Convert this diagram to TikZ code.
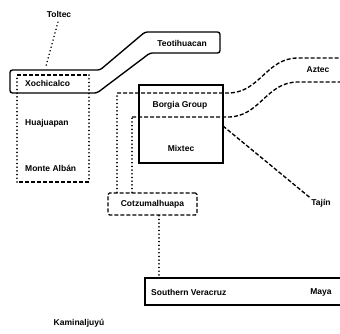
\documentclass[tikz,border=0pt]{standalone}
\usepackage{fontspec}
\setmainfont{Liberation Sans}
\tikzset{
  lbl/.style={font=\fontsize{8.5}{9}\selectfont\bfseries, inner sep=1pt},
  solidline/.style={line width=1.35pt},
  dashline/.style={line width=1.35pt, dash pattern=on 4pt off 2pt},
  dotline/.style={line width=1.6pt, line cap=round, dash pattern=on 0.1pt off 3.6pt},
}
\begin{document}
\begin{tikzpicture}[x=1pt,y=-1pt]
\useasboundingbox (0,0) rectangle (340,333);

% Teotihuacan band running down into Xochicalco
\draw[solidline, rounded corners=2.5pt]
  (10,70) -- (100,70) -- (145,32) -- (220,32) -- (220,53) -- (150,53)
  -- (97,93) -- (10,93) -- cycle;

% group frame: Xochicalco, Huajuapan, Monte Alban
\coordinate (ga) at (17,75);
\coordinate (gb) at (89,75);
\coordinate (gc) at (89,182);
\coordinate (gd) at (17,182);
\draw[dashline] (ga) -- (gb);
\draw[dotline] (gb) -- (gc);
\draw[dashline] (gc) -- (gd);
\draw[dotline] (gd) -- (ga);

% labels
\node[lbl] (toltec) at (59,14) {Toltec};
\node[lbl] (teoti) at (182,43) {Teotihuacan};
\node[lbl, anchor=west] (xoch) at (24,83) {Xochicalco};
\node[lbl, anchor=west] (huaj) at (24,123) {Huajuapan};
\node[lbl, anchor=west] (monte) at (24,168) {Monte Albán};
\node[lbl] (aztec) at (318,70) {Aztec};
\node[lbl] (tajin) at (321,203) {Tajín};
\node[lbl] (kamin) at (79,323) {Kaminaljuyú};

% Borgia Group / Mixtec block
\node[draw, solidline, minimum width=84pt, minimum height=78pt, inner sep=0pt]
  (bmbox) at (181,124) {};
\node[lbl] (borgia) at (180,105) {Borgia Group};
\node[lbl] (mixtec) at (181,148) {Mixtec};

% Cotzumalhuapa
\node[lbl, draw, dashline, rounded corners=1.5pt, minimum width=89pt,
  minimum height=22pt] (cotz) at (152.5,204) {Cotzumalhuapa};

% Southern Veracruz / Maya band
\coordinate (sa) at (341,278);
\coordinate (sb) at (145,278);
\coordinate (sc) at (145,305);
\coordinate (sd) at (341,305);
\draw[solidline] (sa) -- (sb) -- (sc) -- (sd);
\node[lbl, anchor=west] (sver) at (150,292) {Southern Veracruz};
\node[lbl] (maya) at (321,292) {Maya};

% Toltec to Xochicalco
\coordinate (xt) at (46,66);
\draw[dotline, shorten <=4pt] (toltec.south) -- (xt);

% outer strand: Cotzumalhuapa up and across to Aztec
\coordinate (o1) at (117,93);
\coordinate (o2) at (228,93);
\coordinate (o3) at (298,58);
\coordinate (o4) at (341,58);
\draw[dotline] (cotz.north -| o1) -- (o1);
\draw[dashline] (o1) -- (o2) .. controls (260,93) and (266,58) .. (o3) -- (o4);

% inner strand: Cotzumalhuapa up and across to Aztec
\coordinate (i1) at (132,117);
\coordinate (i2) at (228,117);
\coordinate (i3) at (298,82);
\coordinate (i4) at (341,82);
\draw[dotline] (cotz.north -| i1) -- (i1);
\draw[dashline] (i1) -- (i2) .. controls (260,117) and (266,82) .. (i3) -- (i4);

% Mixtec to Tajin
\coordinate (tj) at (223,126);
\draw[dashline] (tj) -- (tajin.north west);

% Cotzumalhuapa to Southern Veracruz
\coordinate (sv) at (159,278);
\draw[dotline] (cotz.south -| sv) -- (sv);
\end{tikzpicture}
\end{document}
